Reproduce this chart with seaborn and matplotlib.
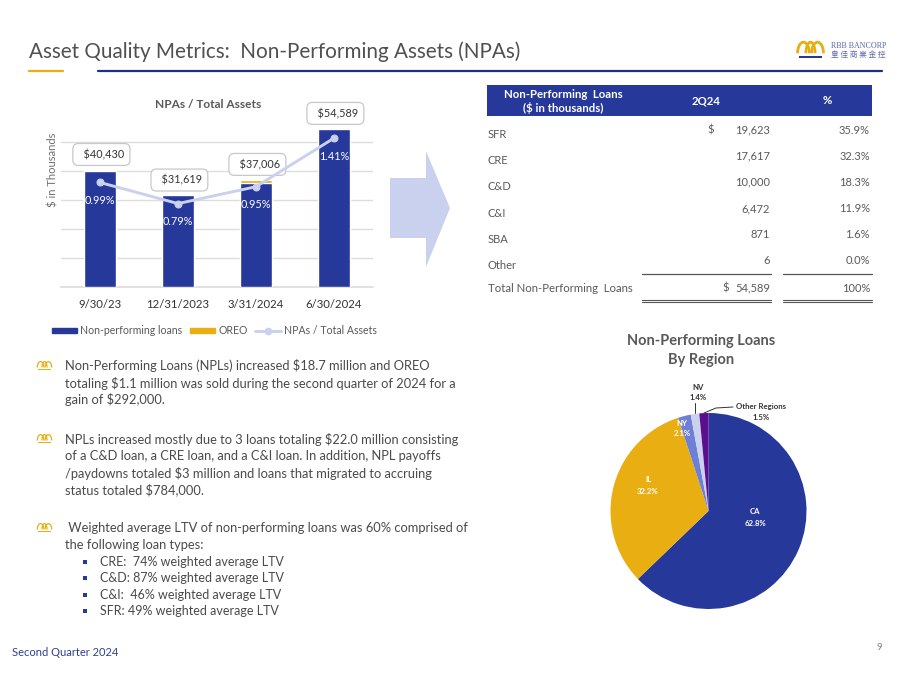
import matplotlib
matplotlib.use("Agg")
import matplotlib.pyplot as plt
from matplotlib.patches import Polygon, Rectangle, Arc
from matplotlib.lines import Line2D
from matplotlib.patches import Patch
import pandas as pd
import seaborn as sns

sns.set_theme(style="white")
plt.rcParams['font.family'] = ['Lato', 'Noto Sans CJK TC', 'DejaVu Sans']

NAVY = "#26389A"
GOLD = "#E8AE12"
LAVENDER = "#C9D1EE"
GRAY = "#595959"

# bar chart data
quarters = ["9/30/23", "12/31/2023", "3/31/2024", "6/30/2024"]
npl_values = [40030, 31619, 35906, 54589]
oreo_values = [400, 0, 1100, 0]
total_labels = ["  $40,430", "  $31,619", "  $37,006", "  $54,589"]
npa_ratio = [0.99, 0.79, 0.95, 1.41]

# table data
loan_types = ["SFR", "CRE", "C&D", "C&I", "SBA", "Other"]
loan_amounts = ["19,623", "17,617", "10,000", "6,472", "871", "6"]
loan_shares = ["35.9%", "32.3%", "18.3%", "11.9%", "1.6%", "0.0%"]

# pie data
regions = ["CA", "IL", "NY", "NV", "Other Regions"]
region_shares = [62.8, 32.2, 2.1, 1.4, 1.5]
region_colors = [NAVY, GOLD, "#6E7FD6", LAVENDER, "#5B0F8E"]

# slide text
bullet_1 = ["Non-Performing Loans (NPLs) increased $18.7 million and OREO",
            "totaling $1.1 million was sold during the second quarter of 2024 for a",
            "gain of $292,000."]
bullet_2 = ["NPLs increased mostly due to 3 loans totaling $22.0 million consisting",
            "of a C&D loan, a CRE loan, and a C&I loan. In addition, NPL payoffs",
            "/paydowns totaled $3 million and loans that migrated to accruing",
            "status totaled $784,000."]
bullet_3 = [" Weighted average LTV of non-performing loans was 60% comprised of",
            "the following loan types:"]
sub_bullets = ["CRE:  74% weighted average LTV", "C&D: 87% weighted average LTV",
               "C&I:  46% weighted average LTV", "SFR: 49% weighted average LTV"]

W, H = 900, 675
fig = plt.figure(figsize=(9, 6.75), dpi=100, facecolor="white")

# page overlay in pixel coordinates, kept on top so labels sit over the pie
page = fig.add_axes([0, 0, 1, 1], zorder=10)
page.set_xlim(0, W)
page.set_ylim(H, 0)
page.axis("off")


def txt(x, y, s, size=10, color=GRAY, ha="left", weight="normal", **kw):
    page.text(x, y, s, fontsize=size, color=color, ha=ha, va="center", weight=weight, **kw)


def crown(x, y, w, h, lw=1.2, base=GOLD):
    # three arches and a base bar
    for cx, aw in [(x + w * 0.24, w * 0.44), (x + w * 0.5, w * 0.34), (x + w * 0.76, w * 0.44)]:
        page.add_patch(Arc((cx, y + h * 0.72), aw, h * 1.3, theta1=180, theta2=360, color=GOLD, lw=lw))
    page.add_patch(Rectangle((x + w * 0.08, y + h * 0.86), w * 0.84, h * 0.14, color=base, lw=0))


# header
txt(29, 52, "Asset Quality Metrics:  Non-Performing Assets (NPAs)", size=14.9, color="#505050")
page.plot([29, 63], [71, 71], color=GOLD, lw=1.6)
page.plot([98, 882], [71, 71], color="#1F2F80", lw=1.6)
crown(797, 41, 27, 17, lw=2, base=NAVY)
txt(831, 45.5, "RBB BANCORP", size=5.8, color="#5A66A8", family="Liberation Serif")
txt(831, 55.5, "皇 佳 商 業 金 控", size=5.5, color="#5A66A8", family="Noto Sans CJK TC")

# footer
txt(12, 652, "Second Quarter 2024", size=8, color="#2F3F8F")
txt(879, 647, "9", size=7, color="#808080", ha="center")

# arrow between chart and table
page.add_patch(Polygon([(390, 178), (426, 178), (426, 151), (450, 208), (426, 267), (426, 238), (390, 238)],
                       closed=True, facecolor=LAVENDER, edgecolor="none"))

# bullets
for ys, lines in [(366, bullet_1), (439, bullet_2), (528, bullet_3)]:
    crown(37, ys - 5, 15, 9, lw=0.9)
    for i, line in enumerate(lines):
        txt(65, ys + i * 17, line, size=9.3, color="#4A4A4A")
for i, line in enumerate(sub_bullets):
    y = 561.5 + i * 16.6
    page.add_patch(Rectangle((82.5, y - 2), 4, 4, color=NAVY, lw=0))
    txt(100, y, line, size=9, color="#4A4A4A")

# table
page.add_patch(Rectangle((487, 85), 385, 31, color=NAVY, lw=0))
txt(563, 94, "Non-Performing  Loans", size=8.2, color="white", ha="center", weight="bold")
txt(563, 108.5, "($ in thousands)", size=8.2, color="white", ha="center", weight="bold")
txt(706, 101, "2Q24", size=8.2, color="white", ha="center", weight="bold")
txt(827, 101, "%", size=8.2, color="white", ha="center", weight="bold")
for i, (name, amount, share) in enumerate(zip(loan_types, loan_amounts, loan_shares)):
    txt(488, 134.5 + i * 26.2, name, size=8)
    txt(770, 130 + i * 26.2, amount, size=8, ha="right")
    txt(870, 130 + i * 26.2, share, size=8, ha="right")
txt(711, 130, "$", size=8, ha="center")
txt(488, 288, "Total Non-Performing  Loans", size=8.2)
txt(726, 288, "$", size=8, ha="center")
txt(770, 288, "54,589", size=8, ha="right")
txt(870, 288, "100%", size=8, ha="right")
for x0, x1 in [(642, 771), (783, 872)]:
    page.plot([x0, x1], [274, 274], color="#555555", lw=0.9)
    page.plot([x0, x1], [300.3, 300.3], color="#555555", lw=0.8)
    page.plot([x0, x1], [302, 302], color="#555555", lw=0.8)

# bar + line chart
left, right, base, top = 61, 373, 287, 113
ax = fig.add_axes([left / W, 1 - base / H, (right - left) / W, (base - top) / H])
ax.patch.set_alpha(0)
df = pd.DataFrame({"quarter": quarters, "npl": npl_values, "oreo": oreo_values, "ratio": npa_ratio})
df["total"] = df["npl"] + df["oreo"]
sns.barplot(data=df, x="quarter", y="total", color=GOLD, width=0.4, saturation=1, ax=ax, zorder=2)
sns.barplot(data=df, x="quarter", y="npl", color=NAVY, width=0.4, saturation=1, ax=ax, zorder=3)
ax.set_xlim(-0.5, 3.5)
ax.set_ylim(0, 60000)
ax.set_yticks([0, 10000, 20000, 30000, 40000, 50000])
ax.yaxis.grid(True, color="#DDDDDD", lw=1)
ax.set_axisbelow(True)
ax.tick_params(axis="y", labelleft=False, length=0)
ax.tick_params(axis="x", length=0, pad=9, labelsize=8.2, labelcolor="#333333")
ax.set_xlabel("")
ax.set_ylabel("")
sns.despine(ax=ax, left=True, bottom=False)
ax.spines["bottom"].set_color("#DDDDDD")
for i, (total, label) in enumerate(zip(df["total"], total_labels)):
    ax.annotate(label, (i, total), xytext=(1, 11), textcoords="offset points", ha="center", va="center",
                fontsize=7.8, color="#333333", zorder=6, annotation_clip=False,
                bbox=dict(boxstyle="round,pad=0.5", fc="white", ec="#C8C8C8", lw=0.9))

ax2 = ax.twinx()
ax2.patch.set_alpha(0)
sns.lineplot(data=df, x="quarter", y="ratio", color=LAVENDER, lw=2.1, marker="o", markersize=5,
             markeredgecolor=LAVENDER, sort=False, ax=ax2, zorder=5, legend=False)
ax2.set_ylim(0, 1.648)
ax2.axis("off")
for i, r in enumerate(npa_ratio):
    ax2.annotate(f"{r:.2f}%", (i, r), xytext=(0, -13), textcoords="offset points", ha="center", va="center",
                 fontsize=7.8, color="white", zorder=6)

txt(208, 105, "NPAs / Total Assets", size=8.6, color=GRAY, ha="center", weight="bold")
txt(52.5, 170, "$ in Thousands", size=8, color="#707070", ha="center", rotation=90, rotation_mode="anchor")
handles = [Patch(color=NAVY, label="Non-performing loans"), Patch(color=GOLD, label="OREO"),
           Line2D([], [], color=LAVENDER, lw=2.1, marker="o", markersize=4.5, label="NPAs / Total Assets")]
fig.legend(handles=handles, loc="center left", bbox_to_anchor=(52 / W, 1 - 331 / H), ncol=3, frameon=False,
           fontsize=7.6, labelcolor=GRAY, handlelength=2.4, handleheight=0.4, handletextpad=0.3,
           columnspacing=0.7, borderpad=0, borderaxespad=0)

# pie chart
r = 98
cx, cy = 708.5, 511
pie_ax = fig.add_axes([(cx - r) / W, 1 - (cy + r) / H, 2 * r / W, 2 * r / H])
pie_ax.pie(region_shares, colors=region_colors, startangle=90, counterclock=False, radius=1,
           wedgeprops=dict(lw=0))
pie_ax.set_xlim(-1, 1)
pie_ax.set_ylim(-1, 1)

txt(701, 341, "Non-Performing Loans", size=10.5, color=GRAY, ha="center", weight="bold")
txt(701, 360, "By Region", size=10.5, color=GRAY, ha="center", weight="bold")
small = dict(size=5.6, ha="center", weight="bold")
txt(755, 512, "CA", color="white", **small)
txt(755, 524, "62.8%", color="white", **small)
txt(648, 480, "IL", color="white", **small)
txt(648, 491, "32.2%", color="white", **small)
txt(682, 423, "NY", color="white", **small)
txt(682, 434, "2.1%", color="white", **small)
txt(698, 387, "NV", color="#333333", **small)
txt(698, 398, "1.4%", color="#333333", **small)
txt(761, 406, "Other Regions", color="#333333", **small)
txt(761, 417, "1.5%", color="#333333", **small)
page.plot([695, 695], [403, 413], color="#333333", lw=0.7)
page.plot([704, 716, 733], [413, 408, 407], color="#333333", lw=0.7)

fig.savefig("out.png", dpi=100)
